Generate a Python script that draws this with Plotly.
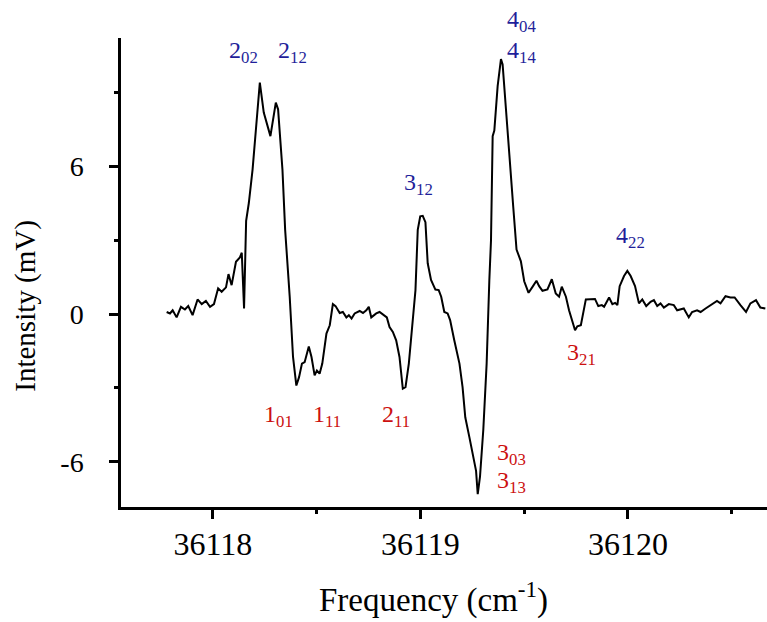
import plotly.graph_objects as go

# Spectrum trace
frequency = [
    36117.777, 36117.793, 36117.806, 36117.825, 36117.846, 36117.865, 36117.881, 36117.902,
    36117.926, 36117.946, 36117.966, 36117.986, 36118.005, 36118.025, 36118.042, 36118.063,
    36118.075, 36118.090, 36118.111, 36118.130, 36118.139, 36118.150, 36118.160, 36118.173,
    36118.191, 36118.210, 36118.226, 36118.245, 36118.277, 36118.303, 36118.314, 36118.335,
    36118.348, 36118.370, 36118.386, 36118.402, 36118.415, 36118.429, 36118.442, 36118.462,
    36118.475, 36118.490, 36118.501, 36118.514, 36118.527, 36118.547, 36118.563, 36118.578,
    36118.591, 36118.611, 36118.626, 36118.643, 36118.655, 36118.668, 36118.683, 36118.707,
    36118.723, 36118.739, 36118.751, 36118.763, 36118.787, 36118.803, 36118.827, 36118.838,
    36118.851, 36118.867, 36118.883, 36118.899, 36118.915, 36118.928, 36118.944, 36118.963,
    36118.976, 36118.987, 36118.999, 36119.011, 36119.024, 36119.035, 36119.051, 36119.072,
    36119.088, 36119.100, 36119.115, 36119.131, 36119.143, 36119.163, 36119.188, 36119.203,
    36119.216, 36119.236, 36119.260, 36119.268, 36119.276, 36119.287, 36119.303, 36119.319,
    36119.332, 36119.340, 36119.348, 36119.356, 36119.372, 36119.388, 36119.396, 36119.409,
    36119.428, 36119.447, 36119.463, 36119.484, 36119.500, 36119.521, 36119.540, 36119.559,
    36119.572, 36119.588, 36119.612, 36119.633, 36119.652, 36119.668, 36119.681, 36119.701,
    36119.716, 36119.732, 36119.745, 36119.756, 36119.773, 36119.797, 36119.813, 36119.841,
    36119.857, 36119.874, 36119.885, 36119.909, 36119.925, 36119.938, 36119.949, 36119.960,
    36119.981, 36119.997, 36120.013, 36120.034, 36120.053, 36120.069, 36120.088, 36120.109,
    36120.125, 36120.141, 36120.157, 36120.173, 36120.197, 36120.221, 36120.237, 36120.269,
    36120.293, 36120.309, 36120.333, 36120.350, 36120.374, 36120.398, 36120.429, 36120.446,
    36120.470, 36120.494, 36120.514, 36120.542, 36120.569, 36120.590, 36120.617, 36120.638,
    36120.662,
]
intensity = [
    0.09, 0.03, 0.16, -0.13, 0.30, 0.19, 0.33, -0.04,
    0.60, 0.41, 0.54, 0.30, 0.41, 1.05, 0.91, 1.09,
    1.63, 1.18, 2.13, 2.31, 2.50, 0.23, 3.80, 4.52,
    5.88, 7.64, 9.42, 8.20, 7.24, 8.60, 8.33, 5.88,
    3.43, 0.71, -1.74, -2.90, -2.56, -2.01, -1.95, -1.31,
    -1.74, -2.49, -2.29, -2.42, -2.01, -0.79, -0.45, 0.41,
    0.33, 0.05, 0.09, -0.13, -0.04, -0.18, 0.03, 0.13,
    0.05, 0.16, 0.30, -0.13, 0.03, 0.09, -0.08, -0.13,
    -0.52, -0.72, -1.06, -1.74, -3.03, -2.97, -2.01, -0.38,
    0.98, 3.43, 3.98, 4.00, 3.74, 2.07, 1.39, 1.00,
    0.98, 0.71, 0.09, 0.03, -0.24, -1.06, -2.01, -2.97,
    -4.19, -5.01, -5.96, -6.37, -7.32, -6.61, -4.69, -2.01,
    1.39, 3.00, 7.24, 7.47, 9.27, 10.37, 10.16, 8.60,
    6.29, 4.38, 2.63, 2.15, 1.34, 0.87, 1.11, 1.36,
    1.14, 0.95, 1.01, 1.42, 0.84, 0.71, 1.12, 0.71,
    0.16, -0.31, -0.65, -0.49, -0.45, 0.60, 0.60, 0.62,
    0.33, 0.37, 0.30, 0.68, 0.41, 0.46, 0.37, 1.14,
    1.55, 1.76, 1.55, 1.14, 0.44, 0.60, 0.33, 0.50,
    0.57, 0.33, 0.44, 0.27, 0.41, 0.37, 0.16, 0.23,
    -0.13, 0.09, 0.16, 0.09, 0.23, 0.37, 0.54, 0.44,
    0.73, 0.68, 0.68, 0.37, 0.09, 0.44, 0.57, 0.27,
    0.23,
]

# Transition labels (upper = blue, lower = red)
upper_labels = ["2<sub>02</sub>", "2<sub>12</sub>", "3<sub>12</sub>", "4<sub>04</sub>", "4<sub>14</sub>", "4<sub>22</sub>"]
upper_x = [36118.149, 36118.385, 36118.990, 36119.486, 36119.486, 36120.010]
upper_y = [10.65, 10.65, 5.31, 10.65, 10.65, 3.14]
upper_shift = [0, 0, 0, 31, 0, 0]  # pixel offset for the stacked label above the axes top

lower_labels = ["1<sub>01</sub>", "1<sub>11</sub>", "2<sub>11</sub>", "3<sub>03</sub>", "3<sub>13</sub>", "3<sub>21</sub>"]
lower_x = [36118.317, 36118.548, 36118.880, 36119.438, 36119.438, 36119.774]
lower_y = [-4.12, -4.12, -4.12, -5.67, -6.82, -1.63]

y_tick_vals = [-6, 0, 6]
y_tick_text = ["-6", "0", "6"]
y_minor_vals = [-3, 3, 9]
x_tick_vals = [36118, 36119, 36120]
x_tick_text = ["36118", "36119", "36120"]
x_minor_vals = [36118.5, 36119.5, 36120.5]

FONT = "Liberation Serif, Times New Roman, serif"
BLUE = "#1f1f9a"
RED = "#cc1010"

fig = go.Figure()
fig.add_trace(go.Scatter(x=frequency, y=intensity, mode="lines",
                         line=dict(color="black", width=2), hoverinfo="skip"))

annotations = []
for t, x, y, s in zip(upper_labels, upper_x, upper_y, upper_shift):
    annotations.append(dict(x=x, y=y, xref="x", yref="y", text=t, showarrow=False, yshift=s,
                            font=dict(family=FONT, size=24, color=BLUE)))
for t, x, y in zip(lower_labels, lower_x, lower_y):
    annotations.append(dict(x=x, y=y, xref="x", yref="y", text=t, showarrow=False,
                            font=dict(family=FONT, size=24, color=RED)))
annotations.append(dict(x=-0.148, y=0.43, xref="paper", yref="paper", text="Intensity (mV)",
                        textangle=-90, showarrow=False, xanchor="center", yanchor="middle",
                        font=dict(family=FONT, size=29, color="black")))
annotations.append(dict(x=0.4845, y=-0.192, xref="paper", yref="paper", text="Frequency (cm<sup>-1</sup>)",
                        showarrow=False, xanchor="center", yanchor="middle",
                        font=dict(family=FONT, size=33, color="black")))

fig.update_layout(
    width=767, height=622,
    margin=dict(l=121, r=0, t=38, b=115),
    paper_bgcolor="white", plot_bgcolor="white",
    showlegend=False,
    annotations=annotations,
    font=dict(family=FONT, color="black"),
)
fig.update_xaxes(
    range=[36117.557, 36120.670],
    showline=True, linecolor="black", linewidth=2.5,
    showgrid=False, zeroline=False,
    tickmode="array", tickvals=x_tick_vals, ticktext=x_tick_text,
    ticks="outside", ticklen=9, tickwidth=2.5, tickcolor="black",
    tickfont=dict(family=FONT, size=32, color="black"),
    ticklabelstandoff=-2,
    minor=dict(tickmode="array", tickvals=x_minor_vals, ticks="outside",
               ticklen=4, tickwidth=2.5, tickcolor="black"),
)
fig.update_yaxes(
    range=[-7.84, 11.23],
    showline=True, linecolor="black", linewidth=2.5,
    showgrid=False, zeroline=False,
    tickmode="array", tickvals=y_tick_vals, ticktext=y_tick_text,
    ticks="outside", ticklen=9, tickwidth=2.5, tickcolor="black",
    tickfont=dict(family=FONT, size=28, color="black"),
    ticklabelstandoff=20,
    minor=dict(tickmode="array", tickvals=y_minor_vals, ticks="outside",
               ticklen=4, tickwidth=2.5, tickcolor="black"),
)

fig.write_html("out.html")
